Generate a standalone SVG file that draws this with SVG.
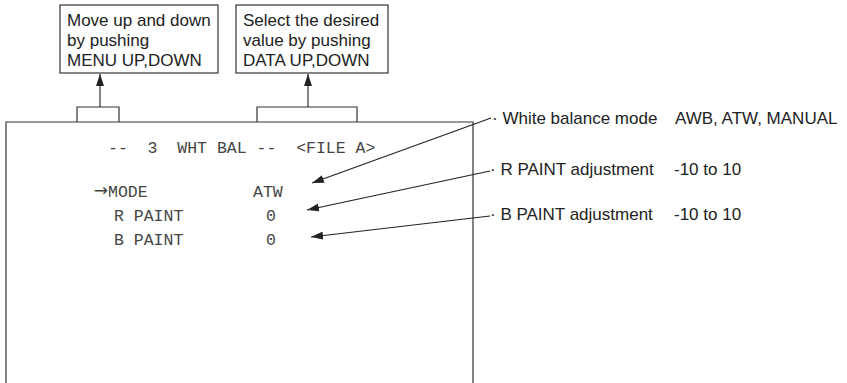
<svg xmlns="http://www.w3.org/2000/svg" width="847" height="383" viewBox="0 0 847 383">
  <style>
    .ln { fill: none; stroke: #333; stroke-width: 1.2; }
    .box { fill: #fff; stroke: #333; stroke-width: 1.2; }
    .sans { font-family: "Liberation Sans", Arial, sans-serif; font-size: 17px; fill: #222; }
    .mono { font-family: "Liberation Mono", "Courier New", monospace; font-size: 16.5px; fill: #444; white-space: pre; }
    .arr { fill: none; stroke: #222; stroke-width: 1.1; marker-end: url(#ah); }
  </style>
  <defs>
    <marker id="ah" viewBox="0 0 12 8" refX="12" refY="4" markerWidth="12" markerHeight="8" markerUnits="userSpaceOnUse" orient="auto">
      <path d="M0,0 L12,4 L0,8 Z" fill="#222"/>
    </marker>
  </defs>
  <rect width="847" height="383" fill="#fff"/>

  <g id="screen">
    <path class="ln" d="M6,390 V122 H473 V390"/>
    <text class="mono" x="108" y="153">--  3  WHT BAL --  &lt;FILE A&gt;</text>
    <text x="108" y="196" text-anchor="end" style="font-family:'DejaVu Sans',sans-serif;font-size:17px;fill:#444">→</text>
    <text class="mono" x="108" y="197">MODE</text>
    <text class="mono" x="253" y="197">ATW</text>
    <text class="mono" x="114" y="221">R PAINT</text>
    <text class="mono" x="266" y="221">0</text>
    <text class="mono" x="114" y="245">B PAINT</text>
    <text class="mono" x="266" y="245">0</text>
  </g>

  <g id="note-menu">
    <rect class="box" x="60" y="5" width="158" height="68"/>
    <text class="sans" x="67" y="26">Move up and down</text>
    <text class="sans" x="67" y="46">by pushing</text>
    <text class="sans" x="67" y="66">MENU UP,DOWN</text>
  </g>

  <g id="note-data">
    <rect class="box" x="236" y="5" width="152" height="68"/>
    <text class="sans" x="243" y="26">Select the desired</text>
    <text class="sans" x="243" y="46">value by pushing</text>
    <text class="sans" x="243" y="66">DATA UP,DOWN</text>
  </g>

  <g id="label-mode">
    <text class="sans" x="492" y="124">· White balance mode</text>
    <text class="sans" x="675" y="124">AWB, ATW, MANUAL</text>
  </g>
  <g id="label-r">
    <text class="sans" x="490" y="175">· R PAINT adjustment</text>
    <text class="sans" x="674" y="175">-10 to 10</text>
  </g>
  <g id="label-b">
    <text class="sans" x="490" y="220">· B PAINT adjustment</text>
    <text class="sans" x="674" y="220">-10 to 10</text>
  </g>

  <g id="connectors">
    <path class="ln" d="M77,122 V107 H119 V122"/>
    <path class="ln" d="M257,122 V107 H357 V122"/>
    <line class="arr" x1="100" y1="107" x2="100" y2="74"/>
    <line class="arr" x1="308" y1="107" x2="308" y2="74"/>
    <line class="arr" x1="491" y1="118" x2="312" y2="183"/>
    <line class="arr" x1="490" y1="171" x2="307" y2="210"/>
    <line class="arr" x1="490" y1="216" x2="311" y2="237"/>
  </g>
</svg>
